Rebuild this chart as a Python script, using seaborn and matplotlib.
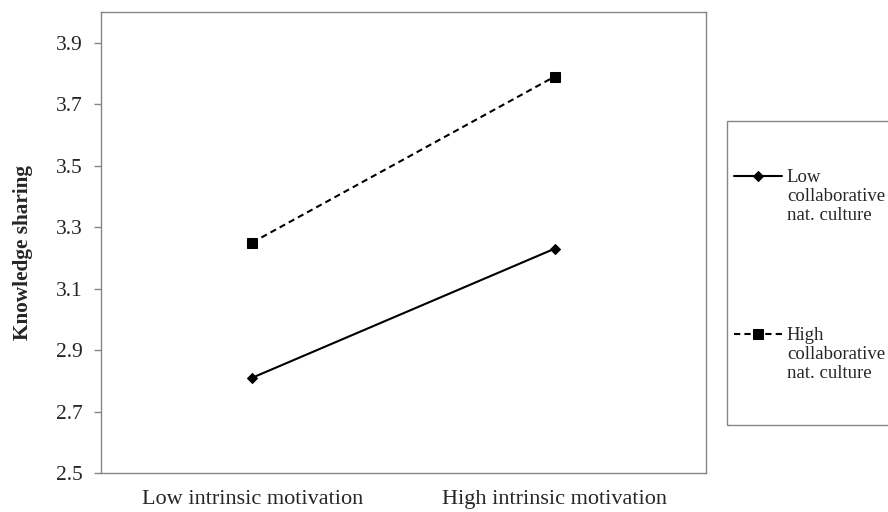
import numpy as np
import pandas as pd
import matplotlib
matplotlib.use('Agg')
import matplotlib.pyplot as plt
from matplotlib.patches import Rectangle
import seaborn as sns

# values
motivation = ['Low intrinsic motivation', 'High intrinsic motivation']
culture = ['Low\ncollaborative\nnat. culture', 'High\ncollaborative\nnat. culture']
low_culture = [2.81, 3.23]
high_culture = [3.25, 3.79]
yticks = [2.5, 2.7, 2.9, 3.1, 3.3, 3.5, 3.7, 3.9]

df = pd.DataFrame({
    'motivation': motivation * 2,
    'culture': [culture[0]] * 2 + [culture[1]] * 2,
    'sharing': low_culture + high_culture,
})

sns.set_theme(style='white')
plt.rcParams['font.family'] = ['Liberation Serif', 'DejaVu Serif']
grey = '#868686'

fig = plt.figure(figsize=(8.88, 5.12), dpi=100)
ax = fig.add_axes([101/888, 1-473/512, (706-101)/888, (473-12)/512])

sns.lineplot(data=df, x='motivation', y='sharing', hue='culture', style='culture',
             palette=['black', 'black'], markers=['D', 's'], dashes=['', (3, 2)],
             markersize=7, linewidth=1.5, markeredgecolor='black', sort=False, ax=ax)

ax.set_xlim(-0.5, 1.5)
ax.set_ylim(2.5, 4.0)
ax.set_yticks(yticks)
ax.set_yticklabels([f'{v:.1f}' for v in yticks], fontsize=15.5)
ax.set_xticks([0, 1])
ax.set_xticklabels(motivation, fontsize=16)
ax.set_xticks([-0.5, 0.5, 1.5], minor=True)
ax.tick_params(axis='x', which='major', length=0, pad=12)
ax.tick_params(axis='x', which='minor', length=5, color=grey, width=1, direction='out')
ax.tick_params(axis='y', which='major', length=5, color=grey, width=1, direction='out', left=True, pad=8)
ax.set_xlabel('')
ax.set_ylabel('Knowledge sharing', fontsize=15.3, fontweight='bold')
ax.yaxis.set_label_coords(-68/605, 0.478)
for s in ax.spines.values():
    s.set_color(grey)
    s.set_linewidth(1)

# the diamonds are a bit smaller than the squares
for ln in ax.lines:
    if ln.get_marker() == 'D':
        ln.set_markersize(5.5)

# legend outside on the right
handles, labels = ax.get_legend_handles_labels()
for h in handles:
    if h.get_marker() == 'D':
        h.set_markersize(5.5)
leg = ax.legend(handles, labels, loc='upper left', bbox_to_anchor=(734/888, 1-169/512),
                bbox_transform=fig.transFigure, frameon=False, fontsize=13.5,
                handlelength=2.55, handletextpad=0.27, labelspacing=5.5, borderpad=0,
                borderaxespad=0)
for t in leg.get_texts():
    t.set_linespacing(1.15)
for col in leg._legend_handle_box.get_children():
    for row in col.get_children():
        row.align = 'top'
fig.patches.append(Rectangle((727/888, 1-425/512), 170/888, (425-121)/512,
                             transform=fig.transFigure, fill=False, edgecolor=grey,
                             linewidth=1))

fig.savefig('out.png', dpi=100)
